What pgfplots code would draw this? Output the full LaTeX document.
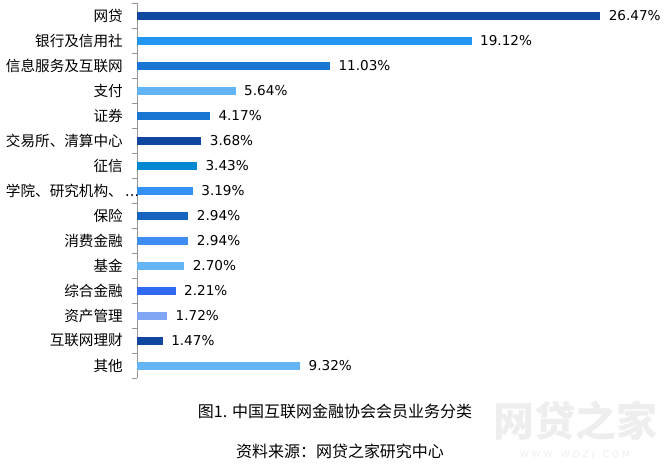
\documentclass[border=0pt]{standalone}
\usepackage{pgfplots}
\pgfplotsset{compat=1.18}
\usepackage{fontspec}
\setmainfont{DejaVu Sans}
\newfontfamily\cjk{Noto Sans CJK SC}

\definecolor{c1}{RGB}{16,71,160}
\definecolor{c2}{RGB}{33,150,243}
\definecolor{c3}{RGB}{25,118,210}
\definecolor{c4}{RGB}{100,181,246}
\definecolor{c5}{RGB}{25,118,210}
\definecolor{c6}{RGB}{16,71,160}
\definecolor{c7}{RGB}{2,136,209}
\definecolor{c8}{RGB}{51,145,245}
\definecolor{c9}{RGB}{21,101,192}
\definecolor{c10}{RGB}{61,142,240}
\definecolor{c11}{RGB}{100,181,246}
\definecolor{c12}{RGB}{48,106,240}
\definecolor{c13}{RGB}{128,166,245}
\definecolor{c14}{RGB}{16,71,160}
\definecolor{c15}{RGB}{100,181,246}
\definecolor{axgray}{RGB}{150,150,150}
\definecolor{wm}{RGB}{238,238,238}

\begin{document}
\begin{tikzpicture}[x=1pt,y=1pt]
\useasboundingbox (0,0) rectangle (665,464);

% watermark
\node[text=wm, font=\cjk\fontsize{41}{41}\selectfont\bfseries] at (575,43) {网贷之家};
\node[text=wm, font=\fontsize{9}{9}\selectfont] at (575,9) {W W W . W D Z J . C O M};

\begin{axis}[
    at={(137pt,86pt)}, anchor=south west,
    scale only axis,
    width=525pt, height=375pt,
    xmin=0, xmax=30,
    ymin=-0.5, ymax=14.5,
    y dir=reverse,
    xbar, bar width=8pt, bar shift=0pt,
    hide x axis,
    axis y line*=left,
    axis line style={axgray},
    ytick={0,...,14},
    yticklabels={网贷,银行及信用社,信息服务及互联网,支付,证券,交易所、清算中心,征信,学院、研究机构、\rlap{\rmfamily\,...},保险,消费金融,基金,综合金融,资产管理,互联网理财,其他},
    yticklabel style={font=\cjk\fontsize{14.6}{16}\selectfont, text=black, anchor=east, inner sep=0pt, xshift=-14pt},
    major tick length=0pt,
    minor ytick={-0.5,0.5,...,14.5},
    minor tick length=5pt,
    tick align=outside,
    tick style={axgray},
    nodes near coords={\pgfmathprintnumber[fixed,fixed zerofill,precision=2]{\pgfplotspointmeta}\%},
    nodes near coords style={font=\fontsize{13.6}{15}\selectfont, text=black, anchor=west, xshift=5pt},
    /pgf/number format/assume math mode=true,
    clip=false,
]
\addplot[fill=c1, draw=none] coordinates {(26.47,0)};
\addplot[fill=c2, draw=none] coordinates {(19.12,1)};
\addplot[fill=c3, draw=none] coordinates {(11.03,2)};
\addplot[fill=c4, draw=none] coordinates {(5.64,3)};
\addplot[fill=c5, draw=none] coordinates {(4.17,4)};
\addplot[fill=c6, draw=none] coordinates {(3.68,5)};
\addplot[fill=c7, draw=none] coordinates {(3.43,6)};
\addplot[fill=c8, draw=none] coordinates {(3.19,7)};
\addplot[fill=c9, draw=none] coordinates {(2.94,8)};
\addplot[fill=c10, draw=none] coordinates {(2.94,9)};
\addplot[fill=c11, draw=none] coordinates {(2.70,10)};
\addplot[fill=c12, draw=none] coordinates {(2.21,11)};
\addplot[fill=c13, draw=none] coordinates {(1.72,12)};
\addplot[fill=c14, draw=none] coordinates {(1.47,13)};
\addplot[fill=c15, draw=none] coordinates {(9.32,14)};
\end{axis}

\node[font=\cjk\fontsize{16}{18}\selectfont] at (335,53) {图1. 中国互联网金融协会会员业务分类};
\node[font=\cjk\fontsize{16}{18}\selectfont] at (340,13) {资料来源：网贷之家研究中心};
\end{tikzpicture}
\end{document}
